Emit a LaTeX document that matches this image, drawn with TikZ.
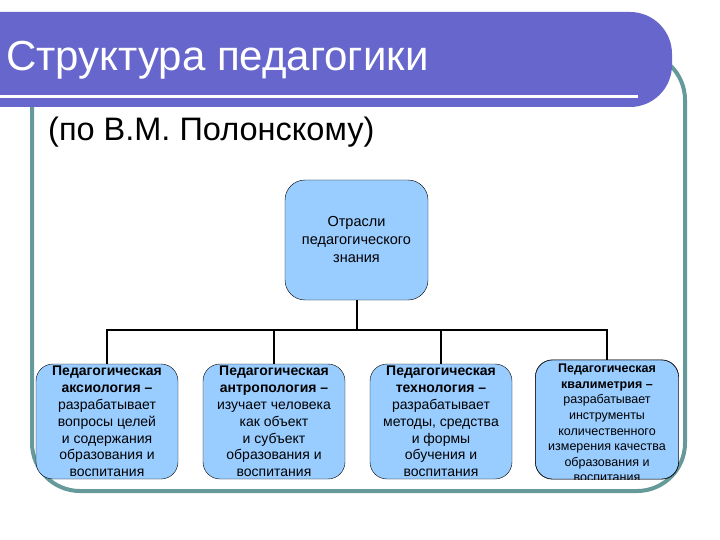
\documentclass[tikz,border=0pt]{standalone}
\usepackage{fontspec}
\setmainfont{Liberation Sans}
\definecolor{titleblue}{HTML}{6666CC}
\definecolor{framegreen}{HTML}{669999}
\definecolor{boxblue}{HTML}{99CCFF}
\tikzset{rootbox/.style={draw,fill=boxblue,rounded corners=20pt,minimum width=143pt,minimum height=120pt,
align=center,inner sep=1pt,font=\fontsize{14.5}{18}\selectfont},
fieldbox/.style={draw,fill=boxblue,rounded corners=17pt,minimum width=142pt,minimum height=115pt,
align=center,inner sep=1pt,font=\fontsize{14}{16.8}\selectfont},
tree/.style={line width=2pt}}

\begin{document}
\begin{tikzpicture}[x=1pt,y=-1pt]
	\useasboundingbox (0,0) rectangle (720,540);
	
	% Frame and title bar
	\draw[framegreen, line width=4pt, rounded corners=48pt] (32,52) rectangle (685,491);
	\fill[titleblue, rounded corners=42pt] (-60,12) rectangle (672,107);
	\draw[white, line width=3pt] (-2,96.5) -- (638,96.5);
	\node[anchor=base west, inner sep=0pt, white, font=\fontsize{42}{50}\selectfont] (title) at (6,71) {Структура педагогики};
	\node[anchor=base west, inner sep=0pt, font=\fontsize{32.5}{39}\selectfont] (author) at (48,141) {(по В.М. Полонскому)};
	
	% Tree
	\node[rootbox] (branches) at (356.5,240) {Отрасли\\педагогического\\знания};
	\node[fieldbox] (axiology) at (107,421.5) {\textbf{Педагогическая}\\\textbf{аксиология –}\\разрабатывает\\вопросы целей\\и содержания\\образования и\\воспитания};
	\node[fieldbox] (anthropology) at (274,421.5) {\textbf{Педагогическая}\\\textbf{антропология –}\\изучает человека\\как объект\\и субъект\\образования и\\воспитания};
	\node[fieldbox] (technology) at (441,421.5) {\textbf{Педагогическая}\\\textbf{технология –}\\разрабатывает\\методы, средства\\и формы\\обучения и\\воспитания};
	\node[fieldbox, minimum width=143pt, minimum height=119pt] (qualimetry) at (607,419.5) {};
	\begin{scope}
	\clip[rounded corners=17pt] (qualimetry.south west) rectangle (qualimetry.north east);
	\node[align=center, font=\fontsize{12.5}{15.6}\selectfont] (qualimetrytext) at ([yshift=-3.5pt]qualimetry.center) {\textbf{Педагогическая}\\\textbf{квалиметрия –}\\разрабатывает\\инструменты\\количественного\\измерения качества\\образования и\\воспитания};
	\end{scope}
	\draw[rounded corners=17pt] (qualimetry.south west) rectangle (qualimetry.north east);
	
	\draw[tree] (branches.south) -- ++(0,30) coordinate (fork);
	\draw[tree] (axiology.north) |- (fork) -| (qualimetry.north);
	\draw[tree] (anthropology.north) -- (anthropology.north |- fork);
	\draw[tree] (technology.north) -- (technology.north |- fork);
\end{tikzpicture}
\end{document}
